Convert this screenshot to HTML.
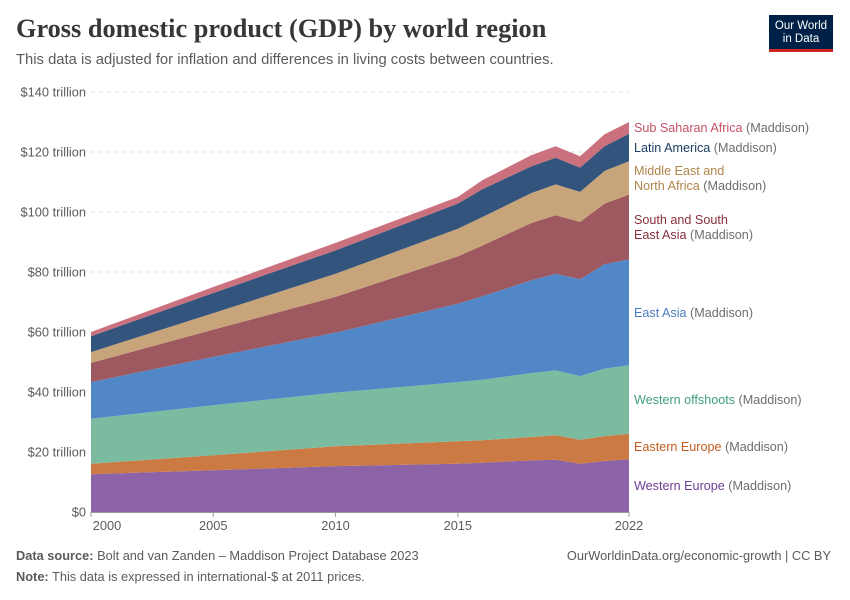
<!DOCTYPE html>
<html><head><meta charset="utf-8"><style>
body{margin:0;background:#fff;font-family:"Liberation Sans",sans-serif;}
#wrap{position:relative;width:850px;height:600px;overflow:hidden;}
.t{position:absolute;white-space:nowrap;}
</style></head><body>
<div id="wrap">
<div class="t" style="left:16px;top:14px;font-family:'Liberation Serif',serif;font-weight:bold;font-size:26.3px;color:#373737;">Gross domestic product (GDP) by world region</div>
<div class="t" style="left:16px;top:52px;font-size:14.8px;color:#5b5b5b;">This data is adjusted for inflation and differences in living costs between countries.</div>
<div style="position:absolute;left:769px;top:15px;width:64px;height:37px;background:#002147;border-bottom:3px solid #ce261e;box-sizing:border-box;color:#fff;font-size:11.5px;line-height:13px;text-align:center;padding-top:5px;">Our World<br>in Data</div>
<svg id="chart" width="850" height="600" style="position:absolute;left:0;top:0"></svg>
<div class="t" style="left:16px;top:548px;font-size:12.8px;color:#5b5b5b;"><b>Data source:</b> Bolt and van Zanden – Maddison Project Database 2023</div>
<div class="t" style="right:19px;top:548px;font-size:12.8px;color:#5b5b5b;">OurWorldinData.org/economic-growth | CC BY</div>
<div class="t" style="left:16px;top:569px;font-size:12.8px;color:#5b5b5b;"><b>Note:</b> This data is expressed in international-$ at 2011 prices.</div>
</div>
<script>
const years=[2000,2005,2010,2015,2016,2018,2019,2020,2021,2022];
const westernEurope=[12.6,13.9,15.3,16.1,16.4,17.2,17.4,16.1,17.0,17.6];
const easternEurope=[3.5,5.0,6.6,7.5,7.5,7.8,8.2,8.0,8.3,8.5];
const westernOffshoots=[15.0,16.7,17.9,19.7,20.2,21.3,21.6,21.2,22.5,22.8];
const eastAsia=[12.2,16.1,20.0,26.1,27.8,30.9,32.2,32.3,34.8,35.3];
const southEastAsia=[6.4,9.1,11.9,15.8,16.9,19.1,19.5,19.1,20.2,21.6];
const middleEastNAfrica=[3.6,5.5,7.7,9.2,9.5,10.0,10.3,10.0,10.9,11.1];
const latinAmerica=[5.3,6.7,7.8,8.4,9.3,8.9,8.9,8.1,8.2,9.2];
const subSaharanAfrica=[1.4,2.0,2.5,2.2,3.0,3.7,3.8,3.8,4.0,3.9];
const yTicks=[0,20,40,60,80,100,120,140];
const xTicks=[2000,2005,2010,2015,2022];

const NS='http://www.w3.org/2000/svg';
const svg=document.getElementById('chart');
const X0=91,X1=629,Y0=512,Y1=92;
const xs=y=>X0+(y-2000)/(2022-2000)*(X1-X0);
const ys=v=>Y0-v/140*(Y0-Y1);
function mk(t,a){const e=document.createElementNS(NS,t);for(const k in a)e.setAttribute(k,a[k]);svg.appendChild(e);return e;}

yTicks.forEach(v=>{
  if(v>0){const g=mk('line',{x1:91,x2:629,y1:ys(v),y2:ys(v),stroke:'#ddd','stroke-dasharray':'4,4'});
  
  }
  const t=mk('text',{x:86,y:ys(v)+4.5,'text-anchor':'end','font-size':12.8,fill:'#5b5b5b','font-family':'Liberation Sans'});
  t.textContent=v===0?'$0':'$'+v+' trillion';
  
  
});

const series=[
 {name:'western-europe',d:westernEurope,c:'#8c63a6',lc:'#6d3e91',lab:['Western Europe'],ly:[490]},
 {name:'eastern-europe',d:easternEurope,c:'#cc7a44',lc:'#c15e1f',lab:['Eastern Europe'],ly:[451]},
 {name:'western-offshoots',d:westernOffshoots,c:'#7bbca0',lc:'#3f9f79',lab:['Western offshoots'],ly:[404]},
 {name:'east-asia',d:eastAsia,c:'#5287c7',lc:'#4a7cc0',lab:['East Asia'],ly:[317]},
 {name:'south-east-asia',d:southEastAsia,c:'#9e5860',lc:'#883039',lab:['South and South','East Asia'],ly:[224,239]},
 {name:'middle-east-north-africa',d:middleEastNAfrica,c:'#c8a47a',lc:'#b0844a',lab:['Middle East and','North Africa'],ly:[175,190]},
 {name:'latin-america',d:latinAmerica,c:'#33547c',lc:'#1d3d63',lab:['Latin America'],ly:[152]},
 {name:'sub-saharan-africa',d:subSaharanAfrica,c:'#cb717e',lc:'#c4526a',lab:['Sub Saharan Africa'],ly:[132]}
];
let base=years.map(()=>0);
series.forEach(s=>{
  const top=base.map((b,i)=>b+s.d[i]);
  let p='M'+years.map((y,i)=>xs(y)+','+ys(top[i])).join('L');
  for(let i=years.length-1;i>=0;i--)p+='L'+xs(years[i])+','+ys(base[i]);
  const a=mk('path',{d:p+'Z',fill:s.c});
  
  
  base=top;
  s.lab.forEach((l,j)=>{
    const t=mk('text',{x:634,y:s.ly[j],'font-size':12.6,fill:s.lc,'font-family':'Liberation Sans'});
    t.textContent=l;
    if(j===s.lab.length-1){const sp=document.createElementNS(NS,'tspan');sp.setAttribute('fill','#6e6e6e');sp.textContent=' (Maddison)';t.appendChild(sp);}
    
    
  });
});
const ax=mk('line',{x1:91,x2:629,y1:512.5,y2:512.5,stroke:'#999'});


xTicks.forEach(y=>{
  const tk=mk('line',{x1:xs(y),x2:xs(y),y1:512,y2:517,stroke:'#999'});
  
  
  const t=mk('text',{x:y===2000?Math.max(xs(y),107):xs(y),y:530,'text-anchor':'middle','font-size':12.8,fill:'#5b5b5b','font-family':'Liberation Sans'});
  t.textContent=y;
  
  
});
</script>
</body></html>
